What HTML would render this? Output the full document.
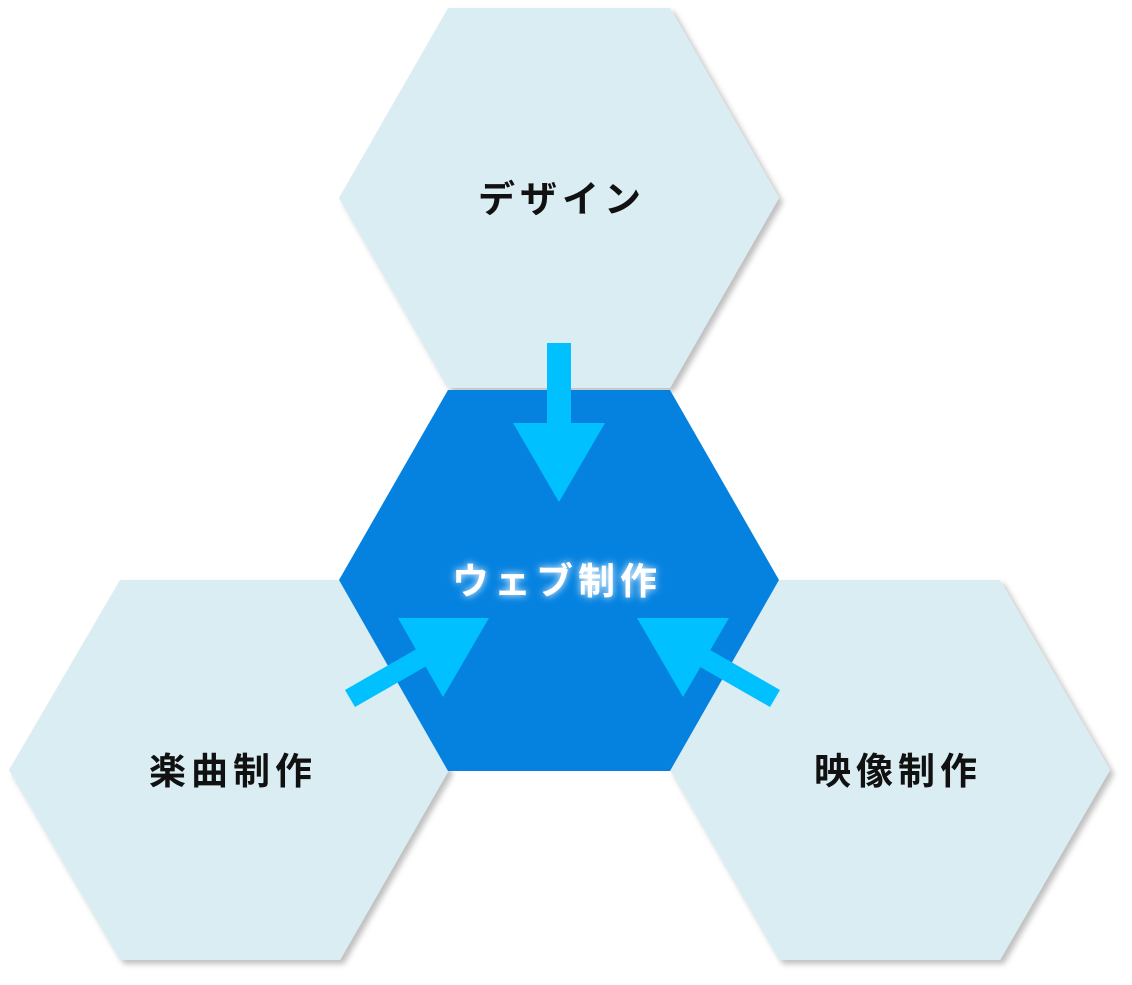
<!DOCTYPE html>
<html><head><meta charset="utf-8"><style>
html,body{margin:0;padding:0;background:#fff;width:1132px;height:985px;overflow:hidden}
svg{display:block}
text{font-family:"Liberation Sans","Noto Sans CJK JP",sans-serif;font-weight:bold;font-size:37px;letter-spacing:5px}
</style></head><body>
<svg width="1132" height="985" viewBox="0 0 1132 985">
<defs>
<filter id="sh" x="-10%" y="-10%" width="125%" height="125%">
<feDropShadow dx="4" dy="4" stdDeviation="3" flood-color="#000" flood-opacity="0.25"/>
</filter>
<filter id="glow" x="-20%" y="-50%" width="140%" height="200%">
<feGaussianBlur stdDeviation="4" result="b"/>
<feMerge><feMergeNode in="b"/><feMergeNode in="SourceGraphic"/></feMerge>
</filter>
</defs>
<g filter="url(#sh)" fill="#daedf2">
<polygon points="448,8 670,8 779,198 670,388 448,388 339,198"/>
<polygon points="120,580 340,580 449,770 340,960 120,960 9,770"/>
<polygon points="779,580 1000,580 1110,770 1000,960 779,960 670,770"/>
</g>
<polygon points="448,390 670,390 779,580 670,771 448,771 339,580" fill="#0582e0"/>
<g fill="#00c0ff">
<rect x="547" y="343" width="24" height="82"/>
<polygon points="513,423 605,423 559,502"/>
<polygon points="345,690 355,707 430,664 420,647"/>
<polygon points="398,618 489,618 443,697"/>
<polygon points="780,690 770,707 695,664 705,647"/>
<polygon points="637,618 729,618 683,697"/>
</g>
<text x="562" y="212" text-anchor="middle" fill="#111">デザイン</text>
<text x="233" y="784" text-anchor="middle" fill="#111">楽曲制作</text>
<text x="898" y="784" text-anchor="middle" fill="#111">映像制作</text>
<text x="557" y="594" text-anchor="middle" fill="#fff" filter="url(#glow)">ウェブ制作</text>
</svg>
</body></html>
